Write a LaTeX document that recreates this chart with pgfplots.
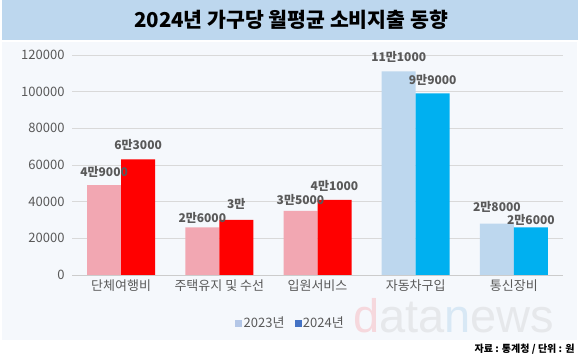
\documentclass[border=0pt]{standalone}
\usepackage{fontspec}
\setmainfont{Noto Sans CJK KR}
\newfontfamily\wm{Liberation Sans}
\usepackage{pgfplots}
\pgfplotsset{compat=1.18}
\definecolor{banner}{HTML}{BDD7EE}
\definecolor{panel}{HTML}{F5F8FC}
\definecolor{pinkA}{HTML}{F2A7B2}
\definecolor{redB}{HTML}{FF0000}
\definecolor{blueA}{HTML}{BDD7EE}
\definecolor{blueB}{HTML}{00B0F0}
\definecolor{legA}{HTML}{B4C7E7}
\definecolor{legB}{HTML}{4472C4}
\definecolor{txt}{HTML}{595959}
\definecolor{wmgray}{HTML}{E6E8EB}
\definecolor{wmpink}{HTML}{F6D8DD}
\definecolor{wmblue}{HTML}{D8E8F5}
\pgfplotsset{
  lbl/.style={nodes near coords, point meta=explicit symbolic,
    visualization depends on={\thisrow{off}\as\off},
    every node near coord/.style={font=\fontsize{12}{14}\selectfont\bfseries, text=txt, anchor=center, inner sep=0pt, yshift=\off pt, xshift=#1}},
}
\begin{document}
\begin{tikzpicture}
\path[use as bounding box] (0,0) rectangle (580pt,361pt);
\fill[banner] (2pt,321pt) rectangle (578pt,361pt);
\node[font=\fontsize{20.5}{24}\selectfont\bfseries] at (291pt,341pt) {2024년 가구당 월평균 소비지출 동향};
\fill[panel] (2pt,21pt) rectangle (577pt,319pt);
\node[anchor=base west, inner sep=0pt, font=\wm\fontsize{47}{50}\selectfont] at (353pt,28pt)
  {\textcolor{wmpink}{d}\textcolor{wmgray}{ata}\textcolor{wmblue}{n}\textcolor{wmgray}{ews}};
\node[anchor=east,font=\fontsize{10}{12}\selectfont\bfseries] at (578pt,12pt) {자료 : 통계청 / 단위 : 원};
\begin{axis}[
  at={(72pt,86pt)}, anchor=south west,
  width=491pt, height=220pt, scale only axis,
  xmin=-0.5, xmax=4.5, ymin=0, ymax=120000,
  ytick={0,20000,40000,60000,80000,100000,120000},
  scaled y ticks=false,
  yticklabel style={/pgf/number format/1000 sep={}, /pgf/number format/fixed, xshift=-4pt},
  /pgf/number format/assume math mode=true,
  tick label style={font=\fontsize{13}{15}\selectfont, text=txt},
  xtick={0,1,2,3,4},
  xticklabels={단체여행비,주택유지 및 수선,입원서비스,자동차구입,통신장비},
  xtick style={draw=none}, ytick style={draw=none},
  axis x line*=bottom, axis y line*=left,
  x axis line style={draw=black!20},
  y axis line style={draw=none},
  ymajorgrids, grid style={draw=black!15, line width=0.8pt},
  xticklabel style={yshift=-1pt},
  legend style={at={(0.445,-0.218)}, anchor=center, draw=none, fill=none,
    legend columns=2, font=\fontsize{13}{15}\selectfont, text=txt,
    /tikz/every even column/.append style={column sep=8pt}},
  legend image code/.code={\fill[#1] (0pt,-3pt) rectangle (6pt,3pt);},
  clip=false,
]
\addlegendimage{legA}
\addlegendentry{2023년}
\addlegendimage{legB}
\addlegendentry{2024년}
\addplot[ybar, bar width=34pt, bar shift=-17pt, fill=pinkA, draw=none, forget plot, lbl=-17pt]
  table[x=x, y=y, meta=lab] {
x y off lab
0 49000 13.5 4만9000
1 26000 9 2만6000
2 35000 11 3만5000
};
\addplot[ybar, bar width=34pt, bar shift=17pt, fill=redB, draw=none, forget plot, lbl=17pt]
  table[x=x, y=y, meta=lab] {
x y off lab
0 63000 14.5 6만3000
1 30000 16 3만
2 41000 14 4만1000
};
\addplot[ybar, bar width=34pt, bar shift=-17pt, fill=blueA, draw=none, forget plot, lbl=-17pt]
  table[x=x, y=y, meta=lab] {
x y off lab
3 111000 15 11만1000
4 28000 16.7 2만8000
};
\addplot[ybar, bar width=34pt, bar shift=17pt, fill=blueB, draw=none, forget plot, lbl=17pt]
  table[x=x, y=y, meta=lab] {
x y off lab
3 99000 14 9만9000
4 26000 7 2만6000
};
\end{axis}
\end{tikzpicture}
\end{document}
